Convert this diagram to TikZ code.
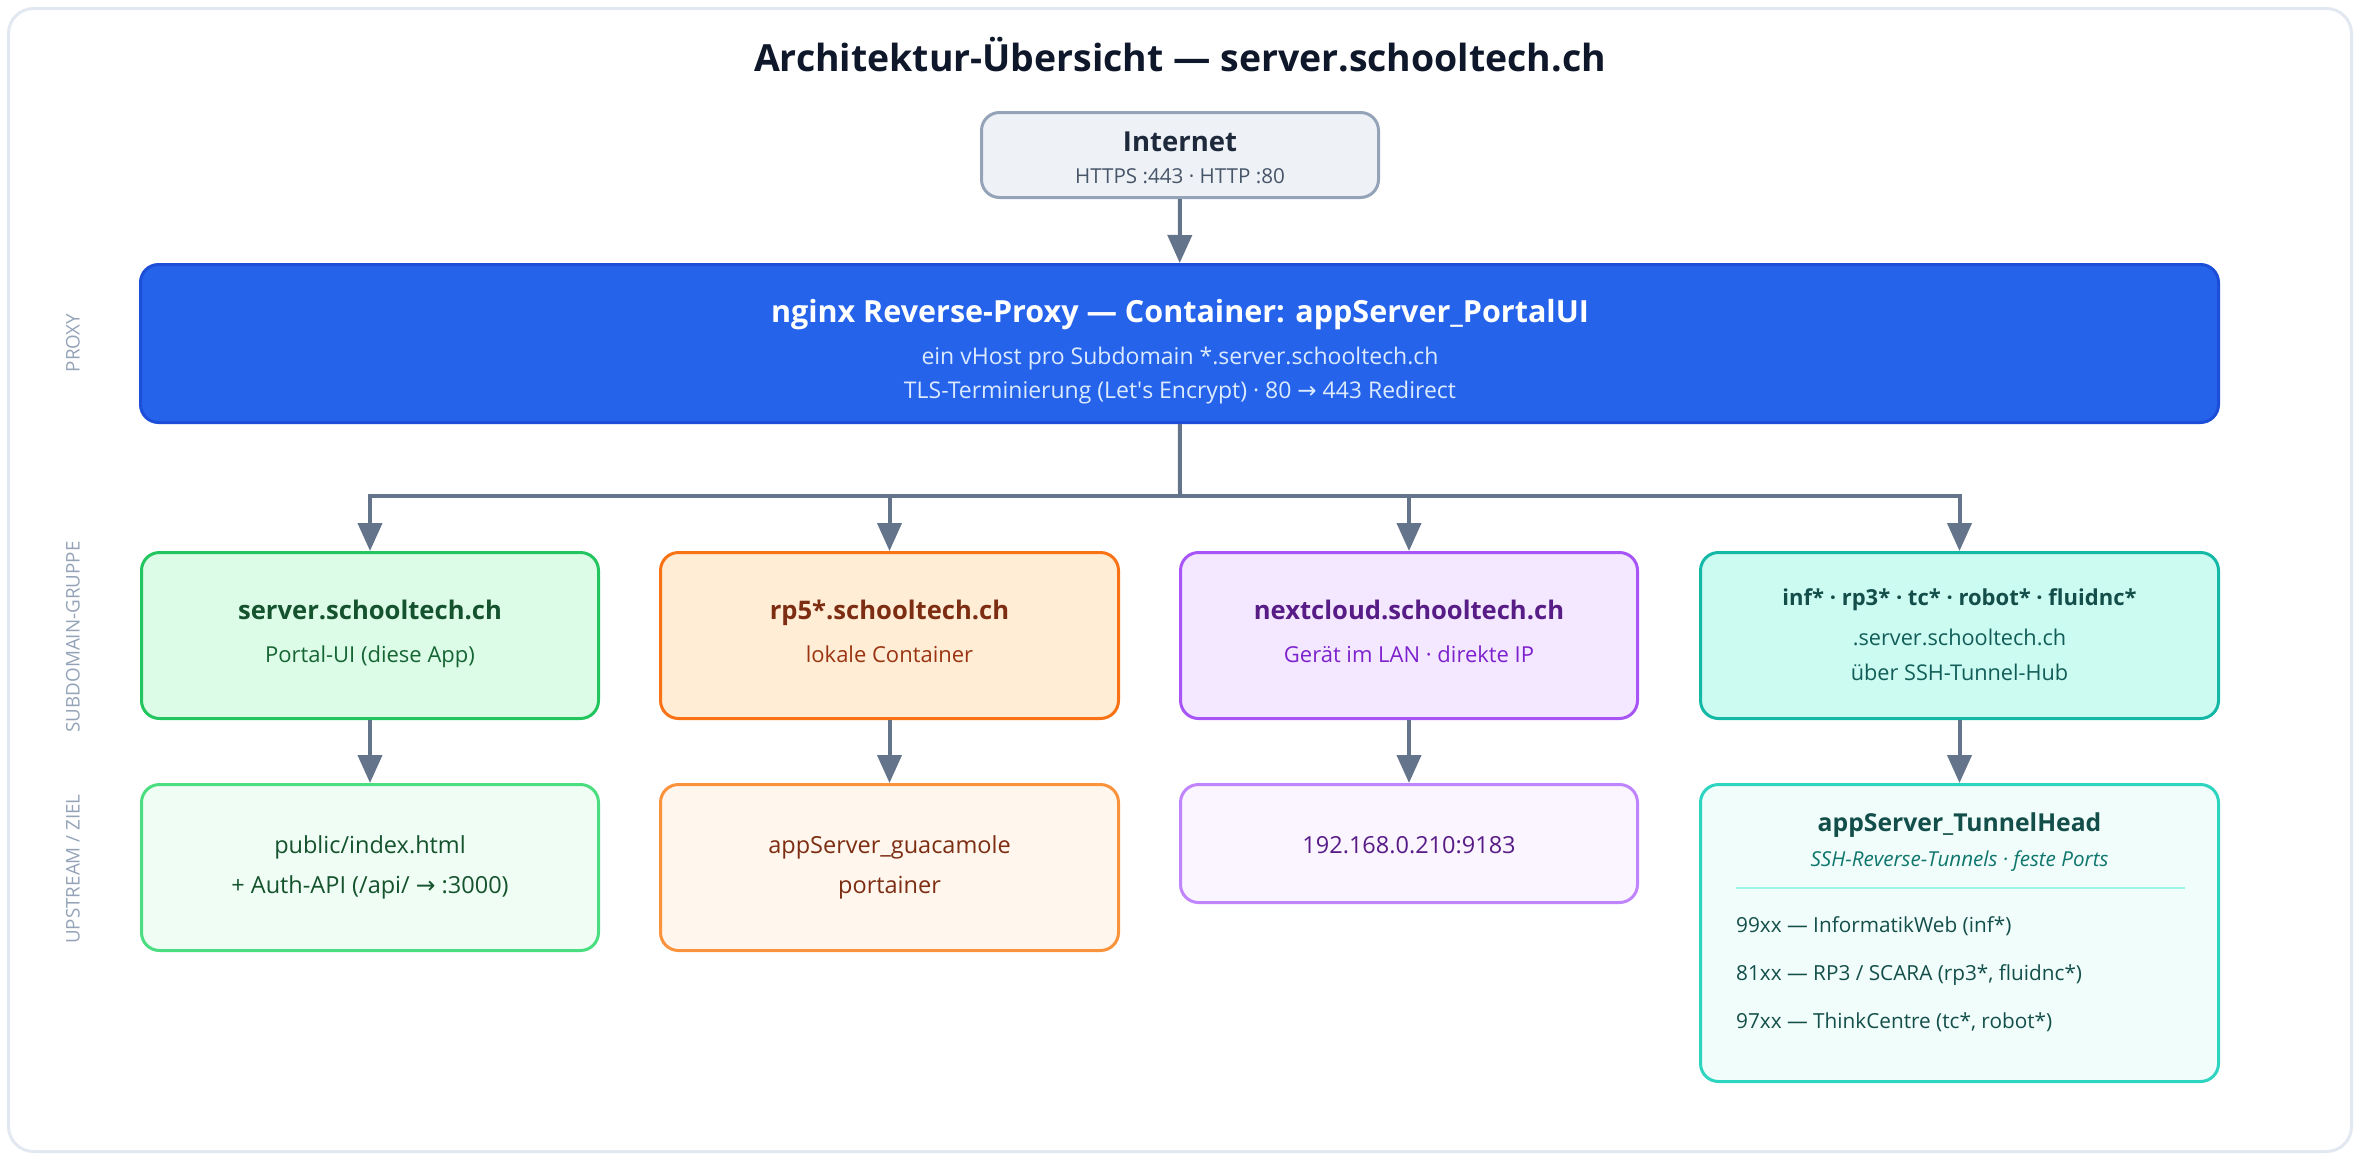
\documentclass[tikz,border=0pt]{standalone}
\usepackage{fontspec}
\setmainfont{Open Sans}
\newfontfamily\symf{DejaVu Sans}
\usetikzlibrary{arrows.meta}
\newcommand\myarrow{{\symf →}}
\newcommand\fs[1]{\fontsize{#1}{#1}\selectfont}
\definecolor{framec}{HTML}{E2E8F0}
\definecolor{titlec}{HTML}{0F172A}
\definecolor{arrowc}{HTML}{64748B}
\definecolor{inetf}{HTML}{EEF2F7}
\definecolor{inetb}{HTML}{94A3B8}
\definecolor{inett}{HTML}{1E293B}
\definecolor{inets}{HTML}{475569}
\definecolor{proxf}{HTML}{2563EB}
\definecolor{proxb}{HTML}{1D4ED8}
\definecolor{proxs}{HTML}{DBEAFE}
\definecolor{sidec}{HTML}{94A3B8}
\definecolor{gf}{HTML}{DCFCE7}
\definecolor{gb}{HTML}{22C55E}
\definecolor{gt}{HTML}{14532D}
\definecolor{gs}{HTML}{166534}
\definecolor{glf}{HTML}{F0FDF4}
\definecolor{glb}{HTML}{4ADE80}
\definecolor{of}{HTML}{FFEDD5}
\definecolor{ob}{HTML}{F97316}
\definecolor{ot}{HTML}{7C2D12}
\definecolor{os}{HTML}{9A3412}
\definecolor{olf}{HTML}{FFF7ED}
\definecolor{olb}{HTML}{FB923C}
\definecolor{pf}{HTML}{F3E8FF}
\definecolor{pb}{HTML}{A855F7}
\definecolor{pt}{HTML}{581C87}
\definecolor{ps}{HTML}{7E22CE}
\definecolor{plf}{HTML}{FAF5FF}
\definecolor{plb}{HTML}{C084FC}
\definecolor{tf}{HTML}{CCFBF1}
\definecolor{tb}{HTML}{14B8A6}
\definecolor{tt}{HTML}{134E4A}
\definecolor{ts}{HTML}{115E59}
\definecolor{tlf}{HTML}{F0FDFA}
\definecolor{tlb}{HTML}{2DD4BF}
\definecolor{tit}{HTML}{0F766E}
\definecolor{tsep}{HTML}{99F6E4}
\begin{document}
\begin{tikzpicture}[x=1pt,y=-1pt,
  box/.style={draw, line width=3pt, rounded corners=18pt, inner sep=0pt},
  conn/.style={draw=arrowc, line width=4pt},
  arr/.style={conn, -{Triangle[length=28pt,width=24pt]}},
  txt/.style={inner sep=0pt, anchor=base},
  ltxt/.style={inner sep=0pt, anchor=base west},
  maintitle/.style={txt, font=\fs{37.4}\bfseries, text=titlec},
  sidelabel/.style={inner sep=0pt, anchor=center, rotate=90, font=\fs{18.8}, text=sidec},
  btitle/.style={txt, font=\fs{25.6}\bfseries},
  bsub/.style={txt, font=\fs{22}},
  rsub/.style={txt, font=\fs{23.5}},
 ]
\useasboundingbox (0,0) rectangle (2360,1160);
\draw[framec, line width=3pt, fill=white, rounded corners=25pt] (8.5,8.5) rectangle (2351.5,1151.5);

\node[maintitle] (title) at (1180,71.4) {Architektur-Übersicht — server.schooltech.ch};

% side labels
\node[sidelabel] (lproxy) at (73,343) {PROXY};
\node[sidelabel] (lsub) at (73,637) {SUBDOMAIN-GRUPPE};
\node[sidelabel] (lup) at (73,869) {UPSTREAM / ZIEL};

% Internet
\node[box, draw=inetb, fill=inetf, minimum width=397pt, minimum height=85pt] (inet) at (1180,155) {};
\node[txt, font=\fs{27.5}\bfseries, text=inett] (inett) at (1180,151.8) {Internet};
\node[txt, font=\fs{20.6}, text=inets] (inets) at (1180,183.4) {HTTPS :443 · HTTP :80};

% Proxy
\node[box, draw=proxb, fill=proxf, minimum width=2078pt, minimum height=158pt] (proxy) at (1179.5,343.5) {};
\node[txt, font=\fs{30.5}\bfseries, text=white] (proxyt) at (1180,322.9) {nginx Reverse-Proxy — Container: appServer\_PortalUI};
\node[txt, font=\fs{23}, text=proxs] (proxys1) at (1180,364.2) {ein vHost pro Subdomain *.server.schooltech.ch};
\node[txt, font=\fs{23}, text=proxs] (proxys2) at (1180,398.2) {TLS-Terminierung (Let\textquotesingle s Encrypt) · 80 \myarrow{} 443 Redirect};

% Row 2
\node[box, draw=gb, fill=gf, minimum width=457pt, minimum height=166pt] (g1) at (370,635.5) {};
\node[btitle, text=gt] at (370,619.1) {server.schooltech.ch};
\node[bsub, text=gs] at (370,662.9) {Portal-UI (diese App)};

\node[box, draw=ob, fill=of, minimum width=458pt, minimum height=166pt] (o1) at (889.5,635.5) {};
\node[btitle, text=ot] at (889.5,619.1) {rp5*.schooltech.ch};
\node[bsub, text=os] at (889.5,662.9) {lokale Container};

\node[box, draw=pb, fill=pf, minimum width=457pt, minimum height=166pt] (p1) at (1409,635.5) {};
\node[btitle, text=pt] at (1409,619.1) {nextcloud.schooltech.ch};
\node[bsub, text=ps] at (1409,662.9) {Gerät im LAN · direkte IP};

\node[box, draw=tb, fill=tf, minimum width=518pt, minimum height=166pt] (t1) at (1959.5,635.5) {};
\node[txt, font=\fs{22}\bfseries, text=tt] at (1959.5,605.9) {inf* · rp3* · tc* · robot* · fluidnc*};
\node[txt, font=\fs{21.7}, text=ts] at (1959.5,645.8) {.server.schooltech.ch};
\node[txt, font=\fs{21.7}, text=ts] at (1959.5,680.8) {über SSH-Tunnel-Hub};

% Row 3
\node[box, draw=glb, fill=glf, minimum width=457pt, minimum height=166pt] (g2) at (370,867.5) {};
\node[rsub, text=gt] at (370,853.4) {public/index.html};
\node[rsub, text=gt] at (370,893.4) {+ Auth-API (/api/ \myarrow{} :3000)};

\node[box, draw=olb, fill=olf, minimum width=458pt, minimum height=166pt] (o2) at (889.5,867.5) {};
\node[rsub, text=ot] at (889.5,853.4) {appServer\_guacamole};
\node[rsub, text=ot] at (889.5,893.4) {portainer};

\node[box, draw=plb, fill=plf, minimum width=457pt, minimum height=118pt] (p2) at (1409,843.5) {};
\node[rsub, text=pt] at (1409,853.4) {192.168.0.210:9183};

\node[box, draw=tlb, fill=tlf, minimum width=518pt, minimum height=297pt] (t2) at (1959.5,933) {};
\node[txt, font=\fs{24.7}\bfseries, text=tt] at (1959.5,831.8) {appServer\_TunnelHead};
\node[txt, font=\fs{20.6}\itshape, text=tit] at (1959.5,866.4) {SSH-Reverse-Tunnels · feste Ports};
\coordinate (sepl) at (1736,888);
\coordinate (sepr) at (2185,888);
\draw[tsep, line width=2.5pt] (sepl) -- (sepr);
\node[ltxt, font=\fs{20.75}, text=tt] at (1736,932.4) {99xx — InformatikWeb (inf*)};
\node[ltxt, font=\fs{20.75}, text=tt] at (1736,980.4) {81xx — RP3 / SCARA (rp3*, fluidnc*)};
\node[ltxt, font=\fs{20.75}, text=tt] at (1736,1028.4) {97xx — ThinkCentre (tc*, robot*)};

% connectors
\draw[arr] (inet) -- (proxy);
\coordinate (bus) at (1180,496);
\draw[conn] (proxy) -- (bus);
\draw[arr] (bus) -| (g1.north);
\draw[arr] (bus) -| (o1.north);
\draw[arr] (bus) -| (p1.north);
\draw[arr] (bus) -| (t1.north);
\draw[arr] (g1) -- (g2);
\draw[arr] (o1) -- (o2);
\draw[arr] (p1) -- (p2);
\draw[arr] (t1) -- (t2);
\end{tikzpicture}
\end{document}
